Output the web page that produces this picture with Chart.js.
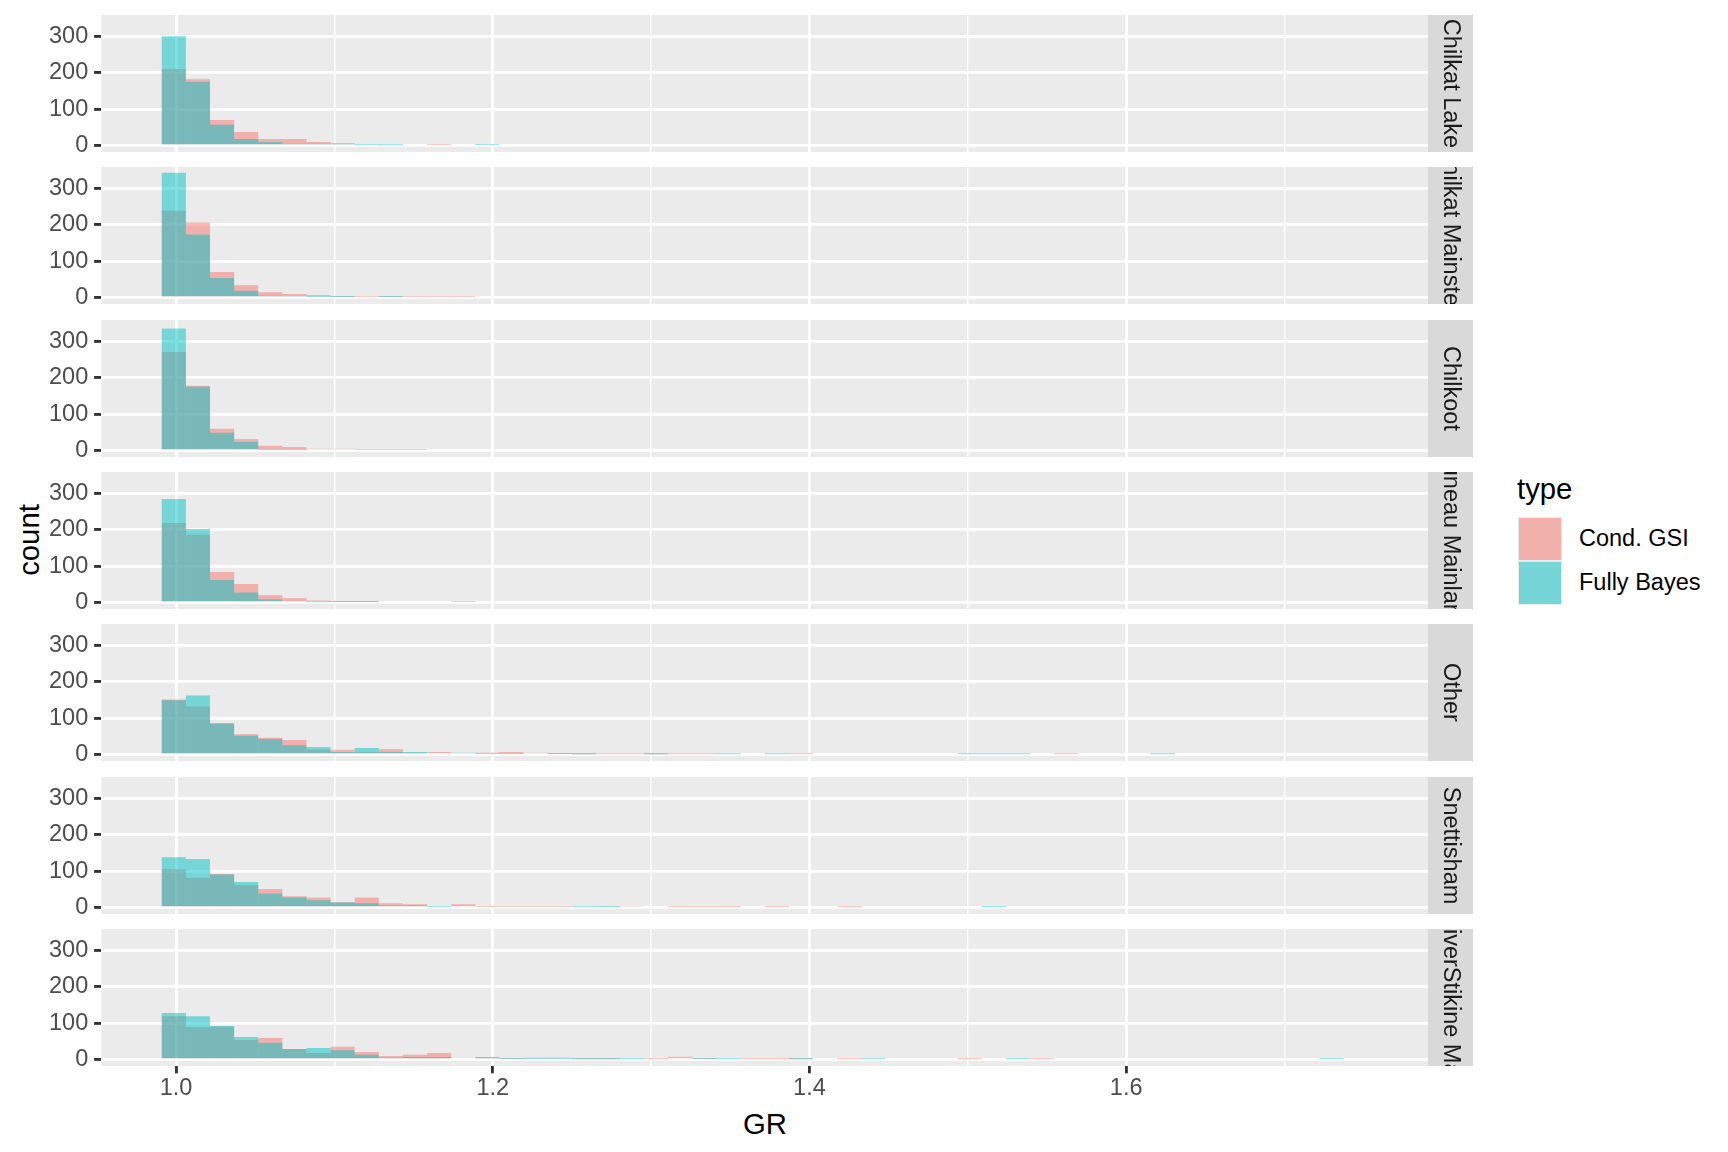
<!DOCTYPE html>
<html>
<head>
<meta charset="utf-8">
<title>GR por grupo</title>
<script src="https://cdn.jsdelivr.net/npm/chart.js@4.4.1/dist/chart.umd.min.js"></script>
<style>
  html, body { margin: 0; background: #ffffff; }
  #figura {
    position: relative;
    width: 1728px;
    height: 1152px;
    font-family: 'Liberation Sans', Arial, sans-serif;
    color: #000000;
  }
  #figura canvas { position: absolute; left: 0; }
  .titulo-eixo {
    position: absolute;
    font-size: 29.3px;
    line-height: 1;
    white-space: nowrap;
    transform: translate(-50%, -50%);
  }
  #tituloY { transform: translate(-50%, -50%) rotate(-90deg); }
  .leg-titulo { position: absolute; font-size: 29.3px; line-height: 1; }
  .leg-chave { position: absolute; width: 44px; height: 44px; background: #ebebeb; }
  .leg-chave div { position: absolute; inset: 1px; }
  .leg-texto {
    position: absolute;
    font-size: 23.5px;
    line-height: 1;
    white-space: nowrap;
    transform: translateY(-50%);
  }
</style>
</head>
<body>
<div id="figura">
  <div id="tituloY" class="titulo-eixo" style="left: 29px; top: 540px">count</div>
  <div id="tituloX" class="titulo-eixo" style="left: 765px; top: 1124px">GR</div>
  <div id="legenda"></div>
</div>
<script>
// ── Dados ───────────────────────────────────────────────────────────────────

const panels = [
  'Chilkat Lake',
  'Chilkat Mainstem',
  'Chilkoot',
  'Juneau Mainland',
  'Other',
  'Snettisham',
  'Taku RiverStikine Mainland',
]
const types = ['Cond. GSI', 'Fully Bayes']

// histogram bins (GR), 50 bins
const BIN_START = 0.991
const BIN_WIDTH = 0.01523
const N_BINS = 50
const GR_MIN = 0.9529
const GR_MAX = 1.7906

const xTicks = [1.0, 1.1, 1.2, 1.3, 1.4, 1.5, 1.6, 1.7]
const xTickLabels = ['1.0', '', '1.2', '', '1.4', '', '1.6', '']
const yTicks = [0, 50, 100, 150, 200, 250, 300, 350]
const yTickLabels = ['0', '', '100', '', '200', '', '300', '']
const Y_MIN = -17.5
const Y_MAX = 358

// counts per bin, starting at the first bin
const chilkatLakeGsi = [210, 182, 70, 37, 18, 18, 10, 7, 4, 4, 4, 2]
const chilkatLakeBayes = [300, 175, 57, 18, 10, 5, 5, 3, 2, 1, 0, 0, 0, 2]

const chilkatMainstemGsi = [238, 206, 70, 34, 15, 10, 7, 2, 2, 1, 2, 2, 2]
const chilkatMainstemBayes = [342, 173, 54, 19, 5, 3, 2, 1, 0, 2]

const chilkootGsi = [270, 178, 60, 32, 13, 10, 5, 5, 2, 2, 2]
const chilkootBayes = [335, 175, 49, 24, 2, 2]

const juneauGsi = [218, 186, 84, 51, 20, 12, 6, 2, 2, 0, 0, 0, 2]
const juneauBayes = [284, 202, 62, 28, 9, 4, 1, 2, 2]

const otherGsi = [
  151, 132, 86, 56, 46, 40, 13, 13, 7, 15, 5, 7, 4, 5, 7, 5, 2, 1, 1, 1, 1, 1,
  1, 0, 0, 0, 1, 0, 0, 0, 0, 0, 0, 0, 0, 0, 0, 1,
]
const otherBayes = [
  149, 162, 85, 52, 43, 26, 21, 7, 18, 7, 7, 4, 5, 2, 2, 0, 2, 1, 0, 0, 1, 0,
  0, 1, 0, 1, 0, 0, 0, 0, 0, 0, 0, 1, 1, 1, 0, 0, 0, 0, 0, 1,
]

const snettishamGsi = [
  105, 81, 92, 62, 51, 31, 28, 15, 28, 12, 9, 4, 9, 2, 2, 2, 2, 0, 3, 3, 0, 1,
  1, 1, 0, 1, 0, 0, 1,
]
const snettishamBayes = [
  138, 133, 91, 70, 39, 28, 20, 14, 12, 6, 6, 2, 4, 0, 0, 0, 0, 2, 1, 0, 0, 0,
  0, 0, 0, 0, 0, 0, 0, 0, 0, 0, 0, 0, 1,
]

const stikineGsi = [
  119, 89, 90, 54, 59, 29, 18, 35, 21, 10, 13, 18, 4, 5, 2, 5, 5, 1, 1, 0, 1, 8,
  2, 0, 1, 1, 1, 0, 1, 0, 0, 0, 0, 1, 0, 0, 1,
]
const stikineBayes = [
  128, 119, 92, 62, 46, 29, 32, 26, 13, 5, 7, 7, 4, 7, 2, 2, 2, 1, 1, 1, 0, 0,
  2, 1, 0, 0, 1, 0, 0, 1, 0, 0, 0, 0, 0, 1, 0, 0, 0, 0, 0, 0, 0, 0, 0, 0, 0, 0,
  1,
]

const gsiCounts = [
  chilkatLakeGsi,
  chilkatMainstemGsi,
  chilkootGsi,
  juneauGsi,
  otherGsi,
  snettishamGsi,
  stikineGsi,
]
const bayesCounts = [
  chilkatLakeBayes,
  chilkatMainstemBayes,
  chilkootBayes,
  juneauBayes,
  otherBayes,
  snettishamBayes,
  stikineBayes,
]

// ── Aparência ───────────────────────────────────────────────────────────────

const FONTE = "'Liberation Sans', Arial, sans-serif"
const CORES = ['rgba(248, 118, 109, 0.5)', 'rgba(0, 191, 196, 0.5)']

const PANEL_TOP = 15
const PANEL_PITCH = 152.3
const PANEL_HEIGHT = 137
const AXIS_WIDTH = 101.4
const PANEL_WIDTH = 1326.6
const STRIP_WIDTH = 45
const PAD = 12
const X_AXIS_HEIGHT = 40

Chart.defaults.font.family = FONTE

const ehMaiorX = (v) => Math.round(v * 10) % 2 === 0
const ehMaiorY = (v) => v % 100 === 0

// panel background + facet strip on the right
const painelPlugin = {
  id: 'painel',
  beforeDraw(chart, args, opts) {
    const { ctx, chartArea: a } = chart
    const h = a.bottom - a.top
    ctx.save()
    ctx.fillStyle = '#EBEBEB'
    ctx.fillRect(a.left, a.top, a.right - a.left, h)
    ctx.fillStyle = '#D9D9D9'
    ctx.fillRect(a.right, a.top, STRIP_WIDTH, h)
    ctx.beginPath()
    ctx.rect(a.right, a.top, STRIP_WIDTH, h)
    ctx.clip()
    ctx.translate(a.right + STRIP_WIDTH / 2, a.top + h / 2)
    ctx.rotate(Math.PI / 2)
    ctx.fillStyle = '#1A1A1A'
    ctx.font = `23.5px ${FONTE}`
    ctx.textAlign = 'center'
    ctx.textBaseline = 'middle'
    ctx.fillText(opts.rotulo, 0, 0)
    ctx.restore()
  },
}

function paraPontos(contagens) {
  const pontos = []
  for (let k = 0; k < N_BINS; k++) {
    pontos.push({ x: BIN_START + BIN_WIDTH * (k + 0.5), y: contagens[k] ?? 0 })
  }
  return pontos
}

// keep the chart area exactly where the layout says (no label overflow room)
function semFolga(s) {
  s.paddingTop = 0
  s.paddingBottom = 0
  s.paddingLeft = 0
  s.paddingRight = 0
}

// ── Painéis ─────────────────────────────────────────────────────────────────

const figura = document.getElementById('figura')

panels.forEach((nome, i) => {
  const ultimo = i === panels.length - 1
  const canvas = document.createElement('canvas')
  canvas.width = Math.round(AXIS_WIDTH + PANEL_WIDTH + STRIP_WIDTH)
  canvas.height = PAD + PANEL_HEIGHT + (ultimo ? X_AXIS_HEIGHT : PAD)
  canvas.style.top = `${Math.round(PANEL_TOP + i * PANEL_PITCH) - PAD}px`
  figura.appendChild(canvas)

  new Chart(canvas, {
    type: 'bar',
    data: {
      datasets: [gsiCounts[i], bayesCounts[i]].map((contagens, j) => ({
        label: types[j],
        data: paraPontos(contagens),
        backgroundColor: CORES[j],
        borderWidth: 0,
        inflateAmount: 0,
        grouped: false,
        barPercentage: 1,
        categoryPercentage: 1,
        order: types.length - j, // Fully Bayes painted over Cond. GSI
      })),
    },
    options: {
      responsive: false,
      animation: false,
      events: [],
      layout: {
        padding: { top: PAD, right: STRIP_WIDTH, bottom: ultimo ? 0 : PAD, left: 0 },
      },
      plugins: {
        legend: { display: false },
        tooltip: { enabled: false },
        painel: { rotulo: nome },
      },
      scales: {
        x: {
          type: 'linear',
          offset: false,
          min: GR_MIN,
          max: GR_MAX,
          afterBuildTicks: (s) => {
            s.ticks = xTicks.map((v) => ({ value: v }))
          },
          afterFit: (s) => {
            s.height = ultimo ? X_AXIS_HEIGHT : 0
            semFolga(s)
          },
          border: { display: false },
          grid: {
            offset: false,
            color: '#FFFFFF',
            lineWidth: (c) => (c.tick && ehMaiorX(c.tick.value) ? 2.85 : 1.42),
            drawTicks: ultimo,
            tickLength: 7.3,
            tickWidth: 2.85,
            tickColor: (c) =>
              c.tick && ehMaiorX(c.tick.value) ? '#333333' : 'rgba(0,0,0,0)',
          },
          ticks: {
            display: ultimo,
            autoSkip: false,
            maxRotation: 0,
            padding: 1,
            color: '#4D4D4D',
            font: { size: 23.5 },
            callback: (v) => xTickLabels[xTicks.indexOf(v)] ?? '',
          },
        },
        y: {
          type: 'linear',
          min: Y_MIN,
          max: Y_MAX,
          afterBuildTicks: (s) => {
            s.ticks = yTicks.map((v) => ({ value: v }))
          },
          afterFit: (s) => {
            s.width = AXIS_WIDTH
            semFolga(s)
          },
          border: { display: false },
          grid: {
            color: '#FFFFFF',
            lineWidth: (c) => (c.tick && ehMaiorY(c.tick.value) ? 2.85 : 1.42),
            tickLength: 7.3,
            tickWidth: 2.85,
            tickColor: (c) =>
              c.tick && ehMaiorY(c.tick.value) ? '#333333' : 'rgba(0,0,0,0)',
          },
          ticks: {
            padding: 5.9,
            color: '#4D4D4D',
            font: { size: 23.5 },
            callback: (v) => yTickLabels[yTicks.indexOf(v)] ?? '',
          },
        },
      },
    },
    plugins: [painelPlugin],
  })
})

// ── Legenda ─────────────────────────────────────────────────────────────────

const legenda = document.getElementById('legenda')
legenda.innerHTML =
  '<div class="leg-titulo" style="left: 1517px; top: 474px">type</div>' +
  types
    .map((t, j) => {
      const topo = 517 + j * 44
      return (
        `<div class="leg-chave" style="left: 1518px; top: ${topo}px">` +
        `<div style="background: ${CORES[j]}"></div></div>` +
        `<div class="leg-texto" style="left: 1579px; top: ${topo + 22}px">${t}</div>`
      )
    })
    .join('')
</script>
</body>
</html>
